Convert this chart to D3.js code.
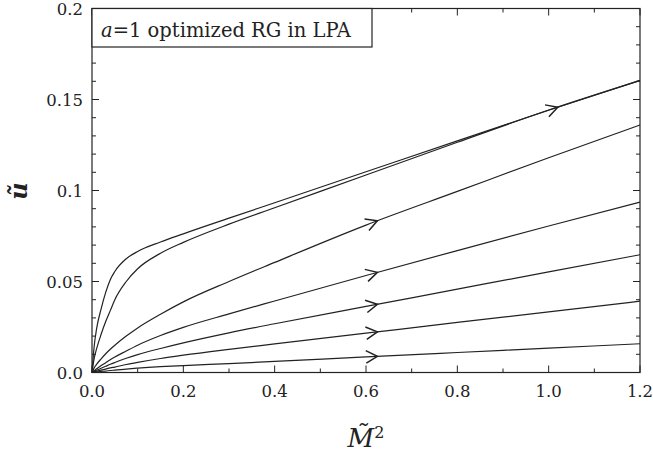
<!DOCTYPE html>
<html>
<head>
<meta charset="utf-8">
<script src="https://cdn.jsdelivr.net/npm/d3@7"></script>
<style>
  body { margin: 0; background: #fff; }
  svg { display: block; }
  text { font-family: "DejaVu Serif", serif; fill: #222; }
</style>
</head>
<body>
<svg id="chart" width="653" height="455"></svg>
<script>
// M~^2 sample points
const mGrid = [0, 0.005, 0.01, 0.02, 0.03, 0.04, 0.05, 0.075, 0.1, 0.15, 0.2, 0.3, 0.4, 0.6, 0.8, 1.0, 1.2];

// u~ for each flow line
const flow1 = [0, 0.015, 0.024, 0.035, 0.044, 0.051, 0.0555, 0.0625, 0.0665, 0.0717, 0.0762, 0.0848, 0.0933, 0.1103, 0.1273, 0.1441, 0.1605];
const flow2 = [0, 0.008, 0.013, 0.021, 0.028, 0.034, 0.040, 0.050, 0.057, 0.0655, 0.0715, 0.0815, 0.0905, 0.1085, 0.1265, 0.1442, 0.1604];
const flow3 = [0, 0.0027, 0.0045, 0.0075, 0.0103, 0.0128, 0.015, 0.020, 0.0245, 0.032, 0.0388, 0.050, 0.0605, 0.081, 0.0995, 0.118, 0.136];
const flow4 = [0, 0.0011, 0.002, 0.0038, 0.0054, 0.007, 0.0085, 0.0118, 0.015, 0.0203, 0.0248, 0.0322, 0.0393, 0.0533, 0.067, 0.0805, 0.0936];
const flow5 = [0, 0.0007, 0.0012, 0.0023, 0.0034, 0.0045, 0.0055, 0.0078, 0.0098, 0.0132, 0.0163, 0.0218, 0.0268, 0.0363, 0.0458, 0.0553, 0.0647];
const flow6 = [0, 0.0004, 0.0007, 0.0013, 0.0019, 0.0025, 0.003, 0.0044, 0.0056, 0.0077, 0.0095, 0.0127, 0.0157, 0.0216, 0.0275, 0.0333, 0.0392];
const flow7 = [0, 0.00015, 0.0003, 0.0006, 0.0008, 0.0011, 0.0013, 0.0019, 0.0024, 0.0032, 0.0038, 0.0049, 0.0061, 0.0086, 0.011, 0.0134, 0.0158];
const flows = [flow1, flow2, flow3, flow4, flow5, flow6, flow7];

// arrow heads: which flow line and at which M~^2
const arrowFlow = [0, 2, 3, 4, 5, 6];
const arrowAt = [1.02, 0.625, 0.625, 0.625, 0.625, 0.625];

const xTicks = [0, 0.2, 0.4, 0.6, 0.8, 1.0, 1.2];
const yTicks = [0, 0.05, 0.1, 0.15, 0.2];
const yTickLabels = ['0.0', '0.05', '0.1', '0.15', '0.2'];

const svg = d3.select('#chart');
const padL = 92, padR = 640, padT = 8.5, padB = 372.5;

const x = d3.scaleLinear().domain([0, 1.2]).range([padL, padR]);
const y = d3.scaleLinear().domain([0, 0.2]).range([padB, padT]);

const ink = '#222';

// ticks, all pointing inward, on all four sides
const g = svg.append('g').attr('stroke', ink).attr('stroke-width', 1);
d3.range(0, 13).forEach(i => {
  const v = i * 0.1;
  const len = i % 2 === 0 ? 7 : 4;
  g.append('line').attr('x1', x(v)).attr('x2', x(v)).attr('y1', padB).attr('y2', padB - len);
  g.append('line').attr('x1', x(v)).attr('x2', x(v)).attr('y1', padT).attr('y2', padT + len);
});
d3.range(0, 21).forEach(i => {
  const v = i * 0.01;
  const len = i % 5 === 0 ? 7 : 4;
  g.append('line').attr('y1', y(v)).attr('y2', y(v)).attr('x1', padL).attr('x2', padL + len);
  g.append('line').attr('y1', y(v)).attr('y2', y(v)).attr('x1', padR).attr('x2', padR - len);
});

// tick labels
svg.append('g').selectAll('text').data(xTicks).join('text')
  .attr('x', d => x(d)).attr('y', padB + 24)
  .attr('text-anchor', 'middle').attr('font-size', 16.5)
  .text(d => d.toFixed(1));
svg.append('g').selectAll('text').data(yTicks).join('text')
  .attr('x', padL - 9).attr('y', d => y(d) + 6)
  .attr('text-anchor', 'end').attr('font-size', 16.5)
  .text((d, i) => yTickLabels[i]);

// flow lines
const line = d3.line()
  .x((d, i) => x(mGrid[i]))
  .y(d => y(d))
  .curve(d3.curveMonotoneX);

const paths = svg.append('g')
  .attr('fill', 'none').attr('stroke', ink).attr('stroke-width', 1.2)
  .selectAll('path').data(flows).join('path')
  .attr('d', line);

// arrow heads sitting on the lines
const heads = svg.append('g').attr('fill', 'none').attr('stroke', ink).attr('stroke-width', 1.5);
arrowFlow.forEach((fi, k) => {
  const node = paths.nodes()[fi];
  const total = node.getTotalLength();
  const px = x(arrowAt[k]);
  let lo = 0, hi = total;
  for (let it = 0; it < 40; it++) {
    const mid = (lo + hi) / 2;
    if (node.getPointAtLength(mid).x < px) lo = mid; else hi = mid;
  }
  const p = node.getPointAtLength(lo);
  const a = node.getPointAtLength(Math.max(0, lo - 3));
  const ang = Math.atan2(p.y - a.y, p.x - a.x);
  const L = 13, spread = 0.5;
  const p1 = [p.x - L * Math.cos(ang - spread), p.y - L * Math.sin(ang - spread)];
  const p2 = [p.x - L * Math.cos(ang + spread), p.y - L * Math.sin(ang + spread)];
  heads.append('path').attr('d', `M${p1[0]},${p1[1]}L${p.x},${p.y}L${p2[0]},${p2[1]}`);
});

// frame
svg.append('rect')
  .attr('x', padL).attr('y', padT).attr('width', padR - padL).attr('height', padB - padT)
  .attr('fill', 'none').attr('stroke', ink).attr('stroke-width', 1.2);

// legend box
svg.append('rect')
  .attr('x', padL).attr('y', padT).attr('width', 372 - padL).attr('height', 47 - padT)
  .attr('fill', '#fff').attr('stroke', ink).attr('stroke-width', 1.2);
const lt = svg.append('text').attr('x', 101).attr('y', 36.5).attr('font-size', 19.5);
lt.append('tspan').attr('font-style', 'italic').text('a');
lt.append('tspan').text('=1 optimized RG in LPA');

// axis titles
svg.append('text')
  .attr('transform', 'translate(27,191) rotate(-90)')
  .attr('text-anchor', 'middle').attr('font-size', 24).attr('font-style', 'italic')
  .attr('font-weight', 'bold')
  .text('u\u0303');
const xt = svg.append('text').attr('x', 366).attr('y', 447)
  .attr('text-anchor', 'middle').attr('font-size', 26).attr('font-style', 'italic');
xt.append('tspan').text('M\u0303');
xt.append('tspan').attr('font-style', 'normal').attr('font-size', 16).attr('dy', -9).text('2');
</script>
</body>
</html>
